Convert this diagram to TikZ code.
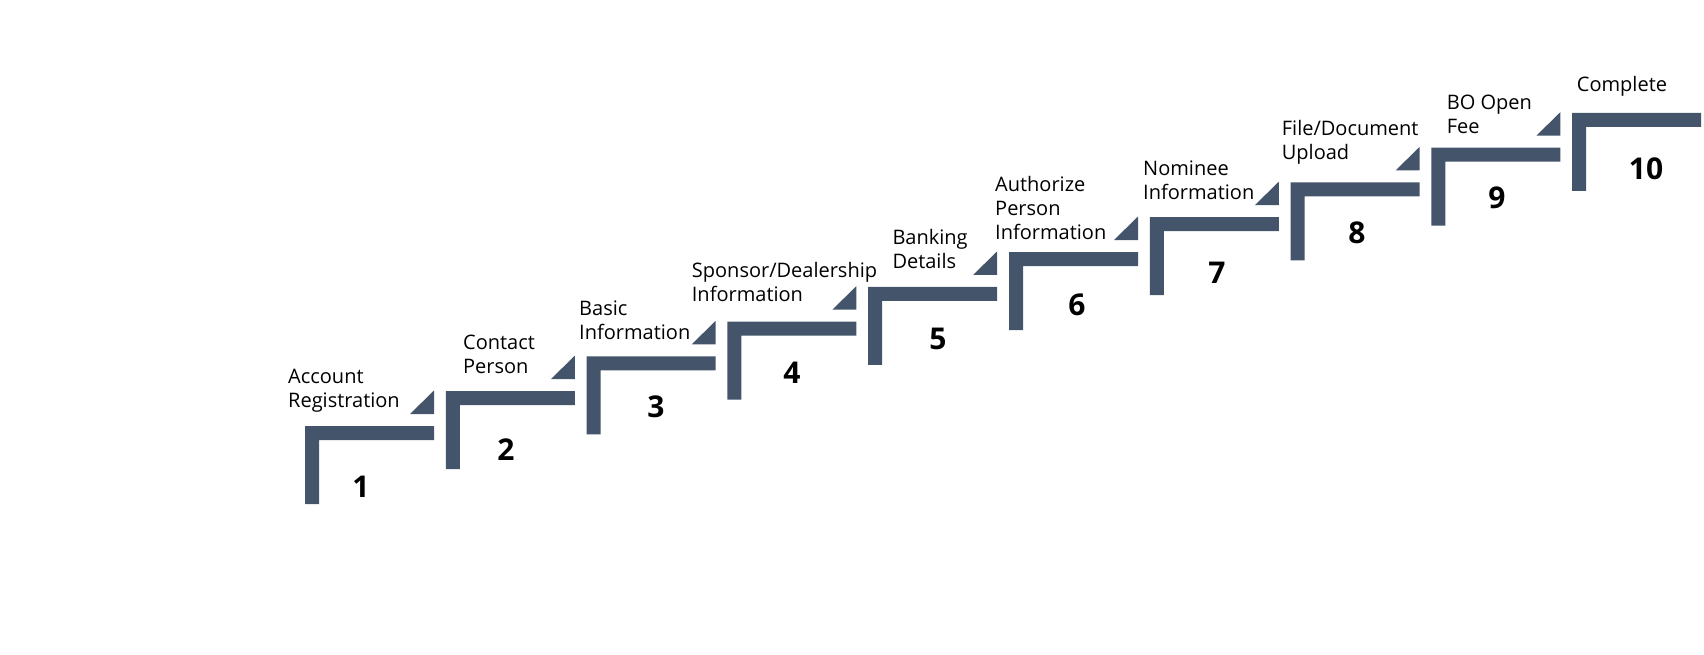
\documentclass[tikz,border=0pt]{standalone}
\usepackage{fontspec}
\setmainfont{Open Sans}
\usepackage{tikz}
\definecolor{stepblue}{RGB}{68,84,106}
\tikzset{
  stepbar/.style={fill=stepblue,draw=none},
  steplabel/.style={anchor=base west,inner sep=0pt,align=left,font=\fontsize{20}{24}\selectfont},
  stepnum/.style={anchor=base,inner sep=0pt,font=\fontsize{30}{36}\selectfont\bfseries},
}

\begin{document}
\begin{tikzpicture}[x=1pt,y=-1pt]
  \useasboundingbox (0,0) rectangle (1704,655);
  % stair steps
  \foreach \i in {1,...,10}{
    \coordinate (s\i) at ({305+(\i-1)*140.8},{426-(\i-1)*34.8});
    \fill[stepbar] (s\i) ++(0,78) -- ++(0,-78) -- ++(129,0) -- ++(0,14) -- ++(-115,0) -- ++(0,64) -- cycle;
  }
  \foreach \i in {1,...,9}
    \fill[stepbar] (s\i) ++(129,-12) -- ++(-24,0) -- ++(24,-23.5) -- cycle;
  % step numbers
  \foreach \i/\nx/\ny in {1/361/497,2/506/460,3/656/417.7,4/792/383,5/938/349.3,
                          6/1077/315,7/1217/283,8/1357/243,9/1497/208,10/1646/180}
    \node[stepnum] (n\i) at (\nx,\ny) {\i};
  % step labels (anchored at the last line)
  \node[steplabel] (lbl1) at (288,407.7) {Account\\Registration};
  \node[steplabel] (lbl2) at (463,373.3) {Contact\\Person};
  \node[steplabel] (lbl3) at (579,339.3) {Basic\\Information};
  \node[steplabel] (lbl4) at (691.7,301.7) {Sponsor/Dealership\\Information};
  \node[steplabel] (lbl5) at (892.3,268.3) {Banking\\Details};
  \node[steplabel] (lbl6) at (995,239) {Authorize\\Person\\Information};
  \node[steplabel] (lbl7) at (1143,200) {Nominee\\Information};
  \node[steplabel] (lbl8) at (1281.7,160) {File/Document\\Upload};
  \node[steplabel] (lbl9) at (1446.7,133.3) {BO Open\\Fee};
  \node[steplabel] (lbl10) at (1576.7,91.7) {Complete};
\end{tikzpicture}
\end{document}
